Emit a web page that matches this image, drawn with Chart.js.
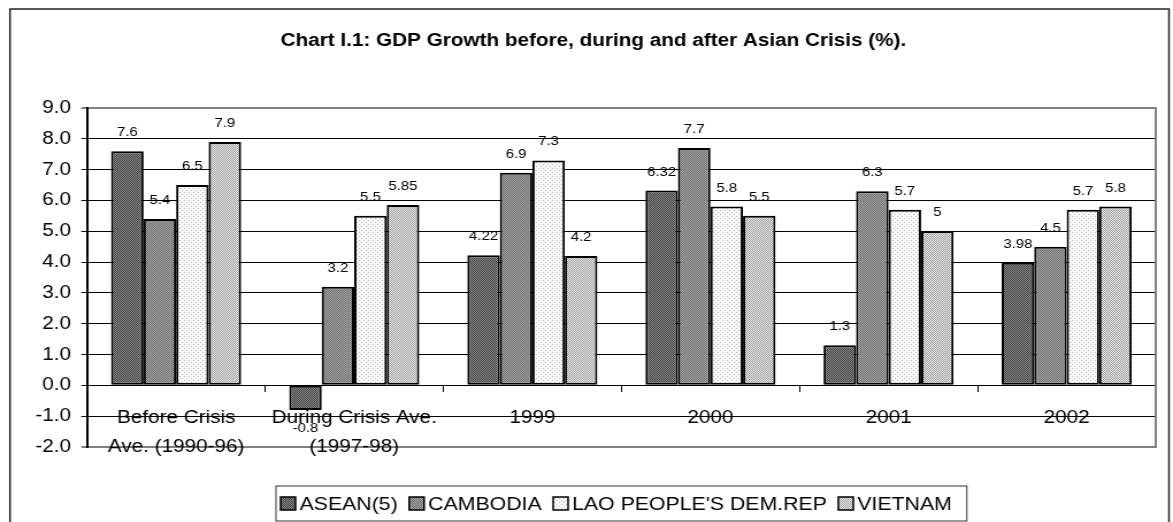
<!DOCTYPE html>
<html>
<head>
<meta charset="utf-8">
<script src="https://cdn.jsdelivr.net/npm/chart.js@4/dist/chart.umd.min.js"></script>
<style>
  html, body { margin: 0; padding: 0; background: #fff; overflow: hidden; }
  #wrap { width: 1020px; height: 522px; transform: scaleX(1.15); transform-origin: 0 0; }
  canvas { display: block; }
</style>
</head>
<body>
<div id="wrap"><canvas id="gdp" width="1020" height="522"></canvas></div>
<script>
// ── DATA ──
const categories = [
    ['Before Crisis', 'Ave. (1990-96)'],
    ['During Crisis Ave.', '(1997-98)'],
    '1999', '2000', '2001', '2002'
];
const seriesNames = ['ASEAN(5)', 'CAMBODIA', "LAO PEOPLE'S DEM.REP", 'VIETNAM'];
const asean    = [7.6, -0.8, 4.22, 6.32, 1.3, 3.98];
const cambodia = [5.4, 3.2, 6.9, 7.7, 6.3, 4.5];
const lao      = [6.5, 5.5, 7.3, 5.8, 5.7, 5.7];
const vietnam  = [7.9, 5.85, 4.2, 5.5, 5, 5.8];
const yMin = -2, yMax = 9, yStep = 1;

const titleText = 'Chart I.1: GDP Growth before, during and after Asian Crisis (%).';
const FONT = '"Liberation Sans", Arial, sans-serif';

// small dotted fills, like the old spreadsheet patterns
function makePattern(a, b, dot) {
    const c = document.createElement('canvas');
    c.width = 4; c.height = 4;
    const g = c.getContext('2d');
    g.fillStyle = a; g.fillRect(0, 0, 4, 4);
    g.fillStyle = b;
    if (dot) {
        g.fillRect(0, 0, 1, 1); g.fillRect(2, 2, 1, 1);
    } else {
        for (let y = 0; y < 4; y++)
            for (let x = 0; x < 4; x++)
                if ((x + y) % 2 === 0) g.fillRect(x, y, 1, 1);
    }
    return g.createPattern(c, 'repeat');
}
const fills = [
    makePattern('#858585', '#454545', false),
    makePattern('#a0a0a0', '#747474', false),
    makePattern('#f6f6f6', '#c4c4c4', true),
    makePattern('#e4e4e4', '#a4a4a4', false)
];
const seriesData = [asean, cambodia, lao, vietnam];

const frame = {
    id: 'frame',
    beforeDraw(chart) {
        const c = chart.ctx;
        c.save();
        c.fillStyle = '#fff';
        c.fillRect(0, 0, chart.width, chart.height);
        c.strokeStyle = '#222';
        c.lineWidth = 1.5;
        c.strokeRect(8.7, 9, 1007.8, 530);
        c.restore();
    },
    afterDatasetsDraw(chart) {
        const c = chart.ctx;
        c.save();
        c.font = '13px ' + FONT;
        c.fillStyle = '#000';
        c.textAlign = 'center';
        c.textBaseline = 'middle';
        chart.data.datasets.forEach((ds, i) => {
            chart.getDatasetMeta(i).data.forEach((bar, j) => {
                const v = ds.data[j];
                const y = v >= 0 ? bar.y - 18.5 : bar.y + 18.5;
                c.fillText(String(v), bar.x, y);
            });
        });
        c.restore();
    },
    afterDraw(chart) {
        const c = chart.ctx;
        const a = chart.chartArea;
        c.save();
        // plot area edge on the right
        c.strokeStyle = '#808080';
        c.lineWidth = 2;
        c.beginPath();
        c.moveTo(a.right, a.top - 1);
        c.lineTo(a.right, a.bottom + 1);
        c.stroke();

        // title
        c.fillStyle = '#000';
        c.font = 'bold 18px ' + FONT;
        c.textAlign = 'center';
        c.textBaseline = 'middle';
        c.fillText(titleText, 516, 41);

        // legend
        c.font = '18.5px ' + FONT;
        c.textAlign = 'left';
        const box = 13, gapTxt = 3.5, gapItem = 10;
        const widths = seriesNames.map(n => c.measureText(n).width);
        const total = widths.reduce((s, w) => s + box + gapTxt + w, 0) + gapItem * (seriesNames.length - 1);
        const padL = 4, padR = 13;
        const cx = (a.left + a.right) / 2;
        const left = cx - (total + padL + padR) / 2;
        const top = 486, h = 35, mid = top + h / 2;
        c.strokeStyle = '#333';
        c.lineWidth = 1;
        c.strokeRect(left, top, total + padL + padR, h);
        let x = left + padL;
        seriesNames.forEach((n, i) => {
            c.fillStyle = fills[i];
            c.fillRect(x, mid - box / 2, box, box);
            c.strokeStyle = '#000';
            c.lineWidth = 1.5;
            c.strokeRect(x, mid - box / 2, box, box);
            c.fillStyle = '#000';
            c.fillText(n, x + box + gapTxt, mid + 1);
            x += box + gapTxt + widths[i] + gapItem;
        });
        c.restore();
    }
};

const tickFont = { family: FONT, size: 18, lineHeight: 1.6 };

new Chart(document.getElementById('gdp'), {
    type: 'bar',
    data: {
        labels: categories,
        datasets: seriesNames.map((name, i) => ({
            label: name,
            data: seriesData[i],
            backgroundColor: fills[i],
            borderColor: '#000',
            borderWidth: 2,
            borderSkipped: false
        }))
    },
    options: {
        responsive: false, animation: false, devicePixelRatio: 1,
        layout: { padding: { top: 108, right: 15, bottom: 75, left: 0 } },
        datasets: { bar: { categoryPercentage: 0.73, barPercentage: 1 } },
        plugins: { legend: { display: false }, title: { display: false }, tooltip: { enabled: false } },
        scales: {
            x: {
                position: { y: 0 },
                grid: { drawOnChartArea: false, drawTicks: true, tickLength: 6, color: '#000', offset: true },
                border: { color: '#000', width: 1 },
                ticks: { font: tickFont, color: '#000', padding: 12, autoSkip: false, maxRotation: 0 }
            },
            y: {
                min: yMin, max: yMax,
                afterFit: s => { s.width = 75.7; },
                ticks: { stepSize: yStep, font: { family: FONT, size: 18 }, color: '#000', padding: 9,
                         callback: v => Number(v).toFixed(1) },
                grid: {
                    color: ctx => (ctx.tick && (ctx.tick.value === yMax || ctx.tick.value === yMin)) ? '#808080' : '#000',
                    lineWidth: ctx => (ctx.tick && (ctx.tick.value === yMax || ctx.tick.value === yMin)) ? 2 : 1,
                    tickColor: '#000', tickLength: 5, tickWidth: 1
                },
                border: { color: '#000', width: 2 }
            }
        }
    },
    plugins: [frame]
});
</script>
</body>
</html>
